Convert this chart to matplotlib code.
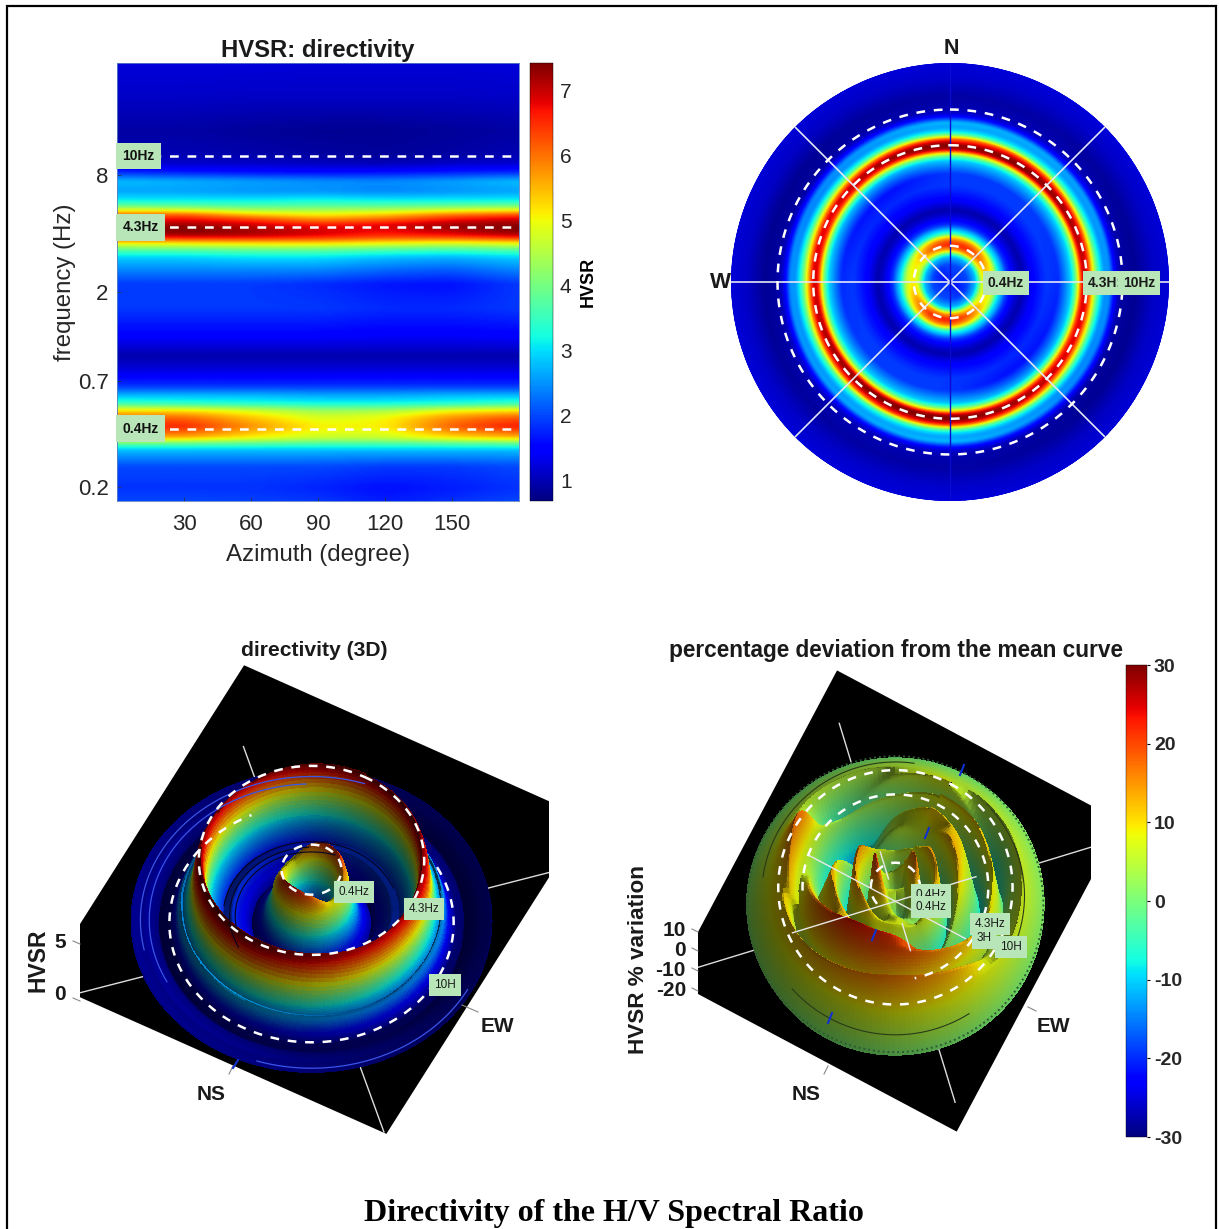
import numpy as np
import matplotlib
matplotlib.use("Agg")
import matplotlib.pyplot as plt
from matplotlib.colors import LightSource
from matplotlib.patches import Rectangle
from matplotlib.lines import Line2D
from mpl_toolkits.mplot3d.art3d import Poly3DCollection

plt.rcParams['font.family'] = ['Liberation Sans', 'DejaVu Sans']
plt.rcParams['axes.unicode_minus'] = False

W, H = 1219, 1229

# frequency rows of the directivity table (Hz)
freq = [30, 20.6, 13.6, 10.1, 9.1, 8.3, 7.46, 6.62, 5.96, 5.61, 5.30, 5.05, 4.75, 4.43,
        4.23, 3.98, 3.80, 3.58, 3.30, 3.03, 2.6, 2.21, 1.66, 1.25, .94, .80, .66, .60,
        .54, .497, .458, .411, .361, .34, .313, .256, .2, .17]
azimuth = [0, 30, 60, 90, 120, 150, 180]
hvsr = [
    [1.22, 1.22, 1.22, 1.2, 1.2, 1.2, 1.22],
    [1.12, 1.12, 1.1, 1.1, 1.1, 1.1, 1.12],
    [.9, .9, .85, .8, .8, .85, .9],
    [1.0, 1.0, .95, .9, .85, .9, 1.0],
    [1.2, 1.15, 1.15, 1.1, 1.05, 1.15, 1.2],
    [1.8, 1.7, 1.6, 1.55, 1.6, 1.7, 1.8],
    [2.8, 2.7, 2.6, 2.5, 2.45, 2.6, 2.8],
    [2.6, 2.6, 2.5, 2.5, 2.4, 2.5, 2.6],
    [3.1, 3.1, 3.1, 3.2, 3.1, 3.1, 3.1],
    [3.8, 3.7, 3.6, 3.7, 3.7, 3.8, 3.9],
    [4.9, 4.8, 4.4, 4.4, 4.5, 4.8, 5.0],
    [6.0, 6.1, 5.3, 5.0, 5.3, 5.9, 6.2],
    [6.5, 6.8, 6.4, 5.8, 6.1, 6.7, 7.0],
    [7.2, 7.3, 7.0, 6.7, 6.9, 7.3, 7.4],
    [7.3, 7.45, 7.2, 6.9, 6.8, 7.2, 7.45],
    [7.1, 7.3, 7.2, 6.9, 6.6, 6.8, 7.2],
    [6.4, 6.5, 6.5, 6.4, 6.1, 6.1, 6.4],
    [5.0, 5.1, 5.2, 5.2, 5.0, 4.8, 5.0],
    [3.7, 3.7, 3.8, 3.8, 3.6, 3.5, 3.7],
    [2.9, 2.9, 3.0, 3.0, 2.8, 2.7, 2.9],
    [2.4, 2.4, 2.4, 2.4, 2.2, 2.1, 2.4],
    [1.9, 1.9, 1.9, 1.8, 1.65, 1.6, 1.9],
    [1.9, 1.9, 1.9, 1.9, 1.8, 1.8, 1.9],
    [1.55, 1.55, 1.55, 1.55, 1.5, 1.5, 1.55],
    [.95, .95, .95, .95, .95, .95, .95],
    [1.25, 1.25, 1.25, 1.25, 1.25, 1.25, 1.25],
    [1.9, 1.9, 1.9, 1.9, 1.9, 1.9, 1.9],
    [2.7, 2.7, 2.7, 2.6, 2.6, 2.7, 2.7],
    [3.5, 3.4, 3.3, 3.2, 3.2, 3.3, 3.5],
    [5.2, 5.2, 4.8, 4.3, 4.4, 5.0, 5.2],
    [6.0, 6.1, 5.4, 4.8, 5.0, 5.8, 6.2],
    [6.6, 6.6, 5.8, 5.1, 5.1, 6.2, 6.7],
    [5.5, 5.6, 5.1, 4.7, 4.7, 5.2, 5.5],
    [4.0, 4.0, 3.9, 3.8, 3.8, 3.9, 4.0],
    [2.8, 2.8, 2.8, 2.8, 2.8, 2.8, 2.8],
    [2.0, 2.0, 2.0, 2.0, 1.9, 1.9, 2.0],
    [1.85, 1.85, 1.85, 1.75, 1.6, 1.7, 1.85],
    [2.0, 2.0, 1.95, 1.9, 1.7, 1.85, 2.0],
]
peak_freq = [0.4, 4.3, 10]
peak_label = ['0.4Hz', '4.3Hz', '10Hz']
hvsr_range = [0.68, 7.43]
dev_range = [-30, 30]
az_ticks = [30, 60, 90, 120, 150]
freq_ticks = [0.2, 0.7, 2, 8]
hvsr_ticks = [1, 2, 3, 4, 5, 6, 7]
dev_ticks = [-30, -20, -10, 0, 10, 20, 30]

# percentage deviation from the mean curve, azimuth columns every 30 degrees
dev_freq = [30, 14, 9, 7, 5, 3.5, 2.5, 1.5, 1, .7, .5, .35, .25, .17]
dev_az = [0, 30, 60, 90, 120, 150, 180, 210, 240, 270, 300, 330, 360]
dev = [
    [0, 1, 1, 0, 0, 0, 0, 1, 1, 0, 0, 0, 0],
    [5, 6, 7, 7, 9, 9, 8, 9, 8, 6, 5, 5, 5],
    [9, -6, 3, 4, 14, 18, 16, 12, 10, 14, -8, 6, 9],
    [-3, -11, -2, 6, -2, 2, -1, 0, 13, 20, -14, -7, -3],
    [10, 13, 10, 10, 16, 20, 16, 12, 6, 8, 3, 6, 10],
    [3, -7, -10, -8, 4, 22, 24, 18, 10, -2, -12, -5, 3],
    [12, 10, -2, -14, -12, 4, 10, 12, 4, -10, -16, 5, 12],
    [6, 14, 12, 4, -3, 10, 8, 12, 14, 8, -6, 6, 6],
    [-4, -8, -6, -13, -10, 3, 8, 4, -8, -12, -15, -6, -4],
    [9, 16, 15, 12, 6, 8, 9, 15, 16, 18, 10, 6, 9],
    [-2, -7, -9, -5, 3, 8, 4, -3, -7, -10, -8, -6, -2],
    [10, 18, 18, 8, 2, 4, 10, 20, 22, 12, 6, 6, 10],
    [2, 5, 6, 3, -3, -4, 3, 7, 7, 3, 2, 2, 2],
    [5, 6, 6, 5, 5, 5, 5, 6, 6, 5, 5, 5, 5],
]


def px(x, y):
    # pixel position in the reference -> figure fraction
    return x / W, 1 - y / H


def rect(x0, y0, x1, y1):
    return [x0 / W, 1 - y1 / H, (x1 - x0) / W, (y1 - y0) / H]


def ftext(x, y, s, size=15, weight='bold', ha='center', va='center', rot=0, color='#1a1a1a', box=False):
    kw = {}
    if box:
        kw['bbox'] = dict(facecolor='#b8e6b8', edgecolor='none', pad=3.5)
    X, Y = px(x, y)
    fig.text(X, Y, s, fontsize=size, fontweight=weight, ha=ha, va=va, rotation=rot, color=color, zorder=20, **kw)


def fline(xs, ys, color='#888888', lw=0.8):
    fx = [x / W for x in xs]
    fy = [1 - y / H for y in ys]
    fig.add_artist(Line2D(fx, fy, color=color, lw=lw, zorder=15))


def smooth(a, n, axis, mode):
    # moving average along one axis, only to take the kinks out of the drawn surface
    pad = [(0, 0), (0, 0)]
    pad[axis] = (n, n)
    b = np.pad(a, pad, mode=mode)
    k = np.ones(n) / n
    c = np.apply_along_axis(lambda v: np.convolve(v, k, mode='same'), axis, b)
    return c[n:-n, :] if axis == 0 else c[:, n:-n]


r_max = np.log10(30 / 0.17)
r_fine = np.linspace(0, r_max, 280)
az_fine = np.linspace(0, 360, 181)


def table_to_grid(freqs, azs, table, nr, naz):
    # resample a table on the drawing grid: rows are azimuth, columns are radius
    rr = np.log10(np.array(freqs) / 0.17)[::-1]
    t = np.array(table, dtype=float)[::-1]
    by_r = np.array([np.interp(r_fine, rr, t[:, j]) for j in range(t.shape[1])]).T
    g = np.array([np.interp(az_fine, azs, row) for row in by_r]).T
    for _ in range(2):
        g = smooth(g, nr, 1, 'edge')
        g = smooth(g, naz, 0, 'reflect')
    return g


def arc(a3, r, z, t0, t1, **kw):
    t = np.radians(np.linspace(t0, t1, 200))
    a3.plot(r * np.sin(t), r * np.cos(t), np.full(200, z), **kw)


fig = plt.figure(figsize=(W / 100, H / 100), dpi=100)
fig.add_artist(Rectangle((7 / W, -0.01), (1216 - 7) / W, 1.01 - 6 / H, fill=False, ec='black', lw=1.6, transform=fig.transFigure))

AZ = np.array(azimuth)
full_az = np.r_[AZ, AZ[1:] + 180]
Z = np.array(hvsr)
Zs = table_to_grid(freq, full_az, np.hstack([Z, Z[:, 1:]]), 3, 7)

# ---- heatmap
ax = fig.add_axes(rect(117, 63, 519, 501))
half = az_fine <= 180
mesh = ax.pcolormesh(az_fine[half], 0.17 * 10 ** r_fine, Zs[half].T, shading='gouraud', cmap='jet',
                     vmin=hvsr_range[0], vmax=hvsr_range[1])
ax.set_yscale('log')
ax.set_xlim(0, 180)
ax.set_ylim(0.17, 30)
ax.set_xticks(az_ticks)
ax.set_yticks(freq_ticks)
ax.set_yticklabels([str(v) for v in freq_ticks])
ax.minorticks_off()
ax.tick_params(direction='in', labelsize=16, length=3, width=0.5, color='#333333', labelcolor='#262626', pad=9)
ax.tick_params(axis='y', pad=6)
for s in ax.spines.values():
    s.set_color('#5a7fc0')
    s.set_linewidth(0.6)
ax.set_xlabel('Azimuth (degree)', fontsize=17.3, color='#262626', labelpad=7)
ax.set_ylabel('frequency (Hz)', fontsize=17.3, color='#262626', labelpad=1)
ax.set_title('HVSR: directivity', fontsize=17.2, fontweight='bold', color='#1a1a1a', pad=4)
for f, lab in zip(peak_freq, peak_label):
    ax.plot([0, 180], [f, f], color='white', lw=1.8, ls=(0, (3.5, 3.5)))
    ax.text(2.5, f, lab, fontsize=10, fontweight='bold', ha='left', va='center', color='#111111',
            bbox=dict(facecolor='#b8e6b8', edgecolor='none', pad=4.5))

cax = fig.add_axes(rect(530, 63, 553, 501))
cb = fig.colorbar(mesh, cax=cax, ticks=hvsr_ticks)
cb.outline.set_linewidth(0.3)
cb.ax.tick_params(labelsize=15, length=0, pad=5, labelcolor='#262626')
cb.set_label('HVSR', fontsize=13, fontweight='bold', labelpad=6)

# ---- polar view
pax = fig.add_axes(rect(731, 63, 1169, 501), projection='polar')
pax.set_theta_zero_location('N')
pax.set_theta_direction(-1)
pax.pcolormesh(np.radians(az_fine), r_fine, Zs.T, shading='gouraud', cmap='jet',
               vmin=hvsr_range[0], vmax=hvsr_range[1])
pax.set_ylim(0, r_max)
pax.set_xticks([])
pax.set_yticks([])
pax.spines['polar'].set_visible(False)
for a in [45, 90, 135, 225, 270, 315]:
    pax.plot(np.radians([a, a]), [0, r_max], color='#e4e8f4', lw=1.2)
for a in [0, 180]:
    pax.plot(np.radians([a, a]), [0, r_max], color='#0a0ad0', lw=1.0)
ring_t = np.radians(np.linspace(0, 360, 361))
for f in peak_freq:
    pax.plot(ring_t, np.full(361, np.log10(f / 0.17)), color='white', lw=1.8, ls=(0, (3.5, 3.5)))

ftext(951, 48, 'N', size=15.5)
ftext(720, 283, 'W', size=16)
ftext(1006, 283, '0.4Hz', size=10, box=True)
ftext(1105, 283, '4.3H:', size=10, box=True)
ftext(1139, 283, '10Hz', size=10, box=True)


# ---- 3D panels
def make_3d(rc, zlim, zbox, clipx, plate_lim):
    a3 = fig.add_axes(rc, projection='3d', computed_zorder=False)
    a3.apply_aspect = lambda position=None: None
    a3.set_position(rc)
    a3.set_proj_type('ortho')
    a3.view_init(elev=57, azim=-62)
    a3.set_xlim(-3, 3)
    a3.set_ylim(-3, 3)
    a3.set_zlim(*zlim)
    a3.set_box_aspect((6, 6, zbox), zoom=1.293)
    a3.set_axis_off()
    a3.patch.set_alpha(0)
    # black plate, cut off on the sides like the reference
    x0, x1, y0, y1 = plate_lim
    plate = Poly3DCollection([[(x0, y0, 0), (x1, y0, 0), (x1, y1, 0), (x0, y1, 0)]],
                             facecolor='black', edgecolor='none', zorder=1)
    a3.add_collection3d(plate)
    clip = Rectangle((clipx[0] / W, 0), (clipx[1] - clipx[0]) / W, 1, transform=fig.transFigure)
    plate.set_clip_path(clip)
    ln, = a3.plot([-2.3, 2.3], [-2.3, 2.3], [0, 0], color='#dddddd', lw=1, zorder=2)
    ln.set_clip_path(clip)
    a3.plot([-2.05, 2.18], [2.05, -2.18], [0, 0], color='#dddddd', lw=1, zorder=2)
    return a3


T = np.radians(az_fine)[:, None]
RR = r_fine[None, :]
XS = RR * np.sin(T)
YS = RR * np.cos(T)
jet = plt.get_cmap('jet')

# left: HVSR surface
a1 = make_3d(rect(44.5, 647, 564.5, 1167), (0, 6.5), 0.235 * 6.5, (80, 549), (-2.61, 2.22, -2.19, 3.12))
fc = jet((Zs - hvsr_range[0]) / (hvsr_range[1] - hvsr_range[0]))
a1.plot_surface(XS, YS, Zs, facecolors=fc, rstride=1, cstride=1, shade=True, linewidth=0, antialiased=False,
                lightsource=LightSource(azdeg=225, altdeg=30), zorder=3)
# creases on the basin and on the outer rim
for r0, t0, t1 in [(0.95, 230, 350), (1.02, 215, 330), (1.1, 250, 400)]:
    arc(a1, r0, 1.7, t0, t1, color='#050520', lw=0.8, zorder=4)
for r0, t0, t1 in [(2.02, 215, 330), (2.13, 230, 350), (2.2, 90, 170)]:
    arc(a1, r0, 1.3, t0, t1, color='#3a55e8', lw=0.9, zorder=4)
for f, z0, ang in [(0.4, 6.2, (0, 360)), (4.3, 7.1, (0, 360)), (10, 1.0, (34, 307))]:
    arc(a1, np.log10(f / 0.17), z0, ang[0], ang[1], color='white', lw=1.8, ls=(0, (3.5, 3.5)), zorder=5)

ftext(314, 650, 'directivity (3D)', size=15.2)
ftext(38, 960, 'HVSR', size=16.5, rot=90)
ftext(60, 943, '5', size=15)
ftext(60, 995, '0', size=15)
fline([73, 80], [941, 944])
fline([73, 80], [998, 1001])
ftext(211, 1094, 'NS', size=15)
ftext(497, 1027, 'EW', size=15)
fline([229, 233], [1074, 1066])
fline([462, 478], [1005, 1012])
fline([233, 238], [1068, 1060], color='#1030d0', lw=1.5)
ftext(354, 892, '0.4Hz', size=8.5, weight='normal', box=True)
ftext(424, 909, '4.3Hz', size=8.5, weight='normal', box=True)
ftext(445, 985, '10H', size=8.5, weight='normal', box=True)

# right: deviation surface
Zd = table_to_grid(dev_freq, dev_az, dev, 5, 7)
a2 = make_3d(rect(671.5, 654, 1107.5, 1174), (-17, 17), 0.235 * 34 / 3.6, (698, 1091), (-2.455, 2.41, -2.56, 2.74))
fc2 = jet((Zd - dev_range[0]) / (dev_range[1] - dev_range[0]))
a2.plot_surface(XS, YS, Zd, facecolors=fc2, rstride=1, cstride=1, shade=True, linewidth=0, antialiased=False,
                lightsource=LightSource(azdeg=225, altdeg=40), zorder=3)
arc(a2, 2.235, 1, 0, 360, color='#2f5a30', lw=1.4, ls=(0, (1, 1.5)), zorder=4)
for r0, t0, t1 in [(2.02, 250, 340), (2.1, 120, 200), (1.95, 20, 90)]:
    arc(a2, r0, 4, t0, t1, color='#2a3a18', lw=0.8, zorder=4)
arc(a2, np.log10(10 / 0.17), 7, 0, 360, color='white', lw=1.8, ls=(0, (3.5, 3.5)), zorder=5)
arc(a2, np.log10(4.3 / 0.17), 7, 240, 500, color='white', lw=1.8, ls=(0, (3.5, 3.5)), zorder=5)
arc(a2, np.log10(0.4 / 0.17), 7, 200, 480, color='white', lw=1.8, ls=(0, (3.5, 3.5)), zorder=5)
# axis lines poking through the folds
a2.plot([-1.15, 0.9], [-1.15, 0.9], [2, 2], color='#e8e8e8', lw=1, zorder=4)
a2.plot([-1.5, 1.2], [0, 0], [2, 2], color='#e8e8e8', lw=1, zorder=4)
for s in (1, -1):
    a2.plot([0.25 * s, 0.55 * s], [-0.25 * s, -0.55 * s], [2, 2], color='#e8e8e8', lw=1, zorder=4)

ftext(896, 650, 'percentage deviation from the mean curve', size=16.3)
ftext(639, 960, 'HVSR % variation', size=16.2, rot=90)
for v, y in zip([10, 0, -10, -20], [931, 950, 970, 990]):
    ftext(686, y, str(v), size=15, ha='right')
    fline([692, 698], [y - 2, y + 1])
ftext(806, 1094, 'NS', size=15)
ftext(1053, 1027, 'EW', size=15)
fline([824, 828], [1074, 1066])
fline([1028, 1036], [1007, 1011])
for mx, my in [(962, 770), (927, 833), (830, 1018), (874, 935)]:
    fline([mx - 2, mx + 2], [my + 5, my - 5], color='#1030d0', lw=1.5)
ftext(931, 895, '0.4Hz', size=8.5, weight='normal', box=True)
ftext(931, 907, '0.4Hz', size=8.5, weight='normal', box=True)
ftext(990, 924, '4.3Hz', size=8.5, weight='normal', box=True)
ftext(984, 938, '3H', size=8.5, weight='normal', box=True)
ftext(1011, 947, '10H', size=8.5, weight='normal', box=True)

cax2 = fig.add_axes(rect(1126, 665, 1147, 1137))
sm = plt.cm.ScalarMappable(cmap='jet', norm=plt.Normalize(*dev_range))
cb2 = fig.colorbar(sm, cax=cax2, ticks=dev_ticks)
cb2.outline.set_linewidth(0.3)
cb2.ax.tick_params(labelsize=14, length=2, pad=3, labelcolor='#262626')
for lb in cb2.ax.get_yticklabels():
    lb.set_fontweight('bold')

fig.text(614 / W, 1 - 1213 / H, 'Directivity of the H/V Spectral Ratio', fontsize=23, fontweight='bold',
         family='Liberation Serif', ha='center', va='center', color='black')

fig.savefig('out.png', dpi=100)
